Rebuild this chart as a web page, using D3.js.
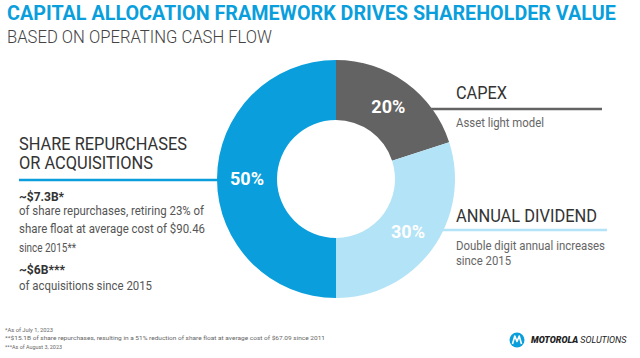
<!DOCTYPE html>
<html>
<head>
<meta charset="utf-8">
<script src="https://cdn.jsdelivr.net/npm/d3@7"></script>
<style>
  html, body { margin: 0; padding: 0; background: #fff; }
  svg { display: block; font-family: Roboto, "Noto Sans", sans-serif; }
</style>
</head>
<body>
<div id="chart"></div>
<script>
// Data
const segments = ["CAPEX", "ANNUAL DIVIDEND", "SHARE REPURCHASES OR ACQUISITIONS"];
const shares = [20, 30, 50];
const colors = ["#636363", "#b3e3f6", "#0a9fdc"];

const titleText = "CAPITAL ALLOCATION FRAMEWORK DRIVES SHAREHOLDER VALUE";
const subtitleText = "BASED ON OPERATING CASH FLOW";
const footnotes = [
    "*As of July 1, 2023",
    "**$15.1B of share repurchases, resulting in a 51% reduction of share float at average cost of $67.09 since 2011",
    "***As of August 3, 2023"
];

const width = 640, height = 358;
const cx = 336, cy = 179;
const outerR = 119, innerR = 59;

const svg = d3.select("#chart")
    .append("svg")
    .attr("width", width)
    .attr("height", height);

// helper for text squeezed to a given width
const txt = (x, y, s, size, opts = {}) => {
    const t = svg.append("text")
        .attr("x", x)
        .attr("y", y)
        .style("font-size", size + "px")
        .style("font-weight", opts.weight || 400)
        .attr("fill", opts.fill || "#333")
        .text(s);
    if (opts.w) t.attr("textLength", opts.w).attr("lengthAdjust", "spacingAndGlyphs");
    return t;
};

// Title (squeezed with a horizontal scale so it reads like a condensed face)
const title = svg.append("text")
    .attr("x", 0)
    .attr("y", 0)
    .style("font-size", "21px")
    .style("font-weight", 700)
    .attr("fill", "#0a9fdc")
    .text(titleText);
const tw = title.node().getComputedTextLength();
title.attr("transform", `translate(7,19.5) scale(${609 / tw},1)`);

txt(7, 43, subtitleText, 18, { weight: 300, fill: "#444", w: 265 });

// Donut
const pie = d3.pie().sort(null).value(d => d.value);
const arcs = pie(segments.map((s, i) => ({ name: s, value: shares[i], color: colors[i] })));
const arc = d3.arc().innerRadius(innerR).outerRadius(outerR);
const labelArc = d3.arc().innerRadius(89).outerRadius(89);

const g = svg.append("g").attr("transform", `translate(${cx},${cy})`);

g.selectAll("path")
    .data(arcs)
    .join("path")
    .attr("d", arc)
    .attr("fill", d => d.data.color);

g.selectAll("text")
    .data(arcs)
    .join("text")
    .attr("transform", d => `translate(${labelArc.centroid(d)})`)
    .attr("text-anchor", "middle")
    .attr("dy", "0.36em")
    .attr("fill", "#fff")
    .style("font-size", "18px")
    .style("font-weight", 700)
    .text(d => d.data.value + "%");

// Leader lines (start on the donut edge)
const edgeX = (y, side) => cx + side * Math.sqrt(outerR * outerR - (y - cy) * (y - cy));

svg.append("line")
    .attr("x1", edgeX(109, 1) - 1).attr("x2", 602)
    .attr("y1", 109).attr("y2", 109)
    .attr("stroke", colors[0]).attr("stroke-width", 2.5);

svg.append("line")
    .attr("x1", edgeX(230, 1) - 1).attr("x2", 607)
    .attr("y1", 230).attr("y2", 230)
    .attr("stroke", colors[1]).attr("stroke-width", 2.5);

svg.append("line")
    .attr("x1", 19).attr("x2", edgeX(180, -1) + 1)
    .attr("y1", 180).attr("y2", 180)
    .attr("stroke", colors[2]).attr("stroke-width", 2.5);

// Right annotations
txt(456, 99, "CAPEX", 18, { fill: "#333", w: 51 });
txt(456, 127, "Asset light model", 13, { fill: "#666", w: 88 });
txt(456, 222, "ANNUAL DIVIDEND", 18, { fill: "#333", w: 141 });
txt(456, 250, "Double digit annual increases", 13, { fill: "#666", w: 149 });
txt(456, 265, "since 2015", 13, { fill: "#666", w: 55 });

// Left annotations
txt(19, 150, "SHARE REPURCHASES", 18, { fill: "#333", w: 168 });
txt(19, 169, "OR ACQUISITIONS", 18, { fill: "#333", w: 134 });
txt(19, 201, "~$7.3B*", 13, { weight: 700, fill: "#333", w: 45 });
txt(19, 215, "of share repurchases, retiring 23% of", 13, { fill: "#555", w: 185 });
txt(19, 233, "share float at average cost of $90.46", 13, { fill: "#555", w: 186 });
txt(19, 252, "since 2015**", 13, { fill: "#555", w: 57 });
txt(19, 274, "~$6B***", 13, { weight: 700, fill: "#333", w: 46 });
txt(19, 290, "of acquisitions since 2015", 13, { fill: "#555", w: 133 });

// Footnotes
const footW = [48, 320, 57];
footnotes.forEach((f, i) => {
    txt(5, 331.5 + i * 8.5, f, 6, { fill: "#666", w: footW[i] });
});

// Logo
const logo = svg.append("g").attr("transform", "translate(517,340)");
logo.append("circle").attr("r", 7.5).attr("fill", "#0a9fdc");
logo.append("path")
    .attr("d", "M-4.5,4 L-2.2,-4 Q-1,-1 0,1.5 Q1,-1 2.2,-4 L4.5,4")
    .attr("fill", "none")
    .attr("stroke", "#fff")
    .attr("stroke-width", 1.6)
    .attr("stroke-linejoin", "round");

const brand = svg.append("text")
    .attr("x", 531)
    .attr("y", 343)
    .attr("fill", "#222")
    .style("font-size", "9px")
    .style("font-style", "italic");
brand.append("tspan").style("font-weight", 900).text("MOTOROLA");
brand.append("tspan").attr("dx", 2).style("font-weight", 400).text("SOLUTIONS");
</script>
</body>
</html>
